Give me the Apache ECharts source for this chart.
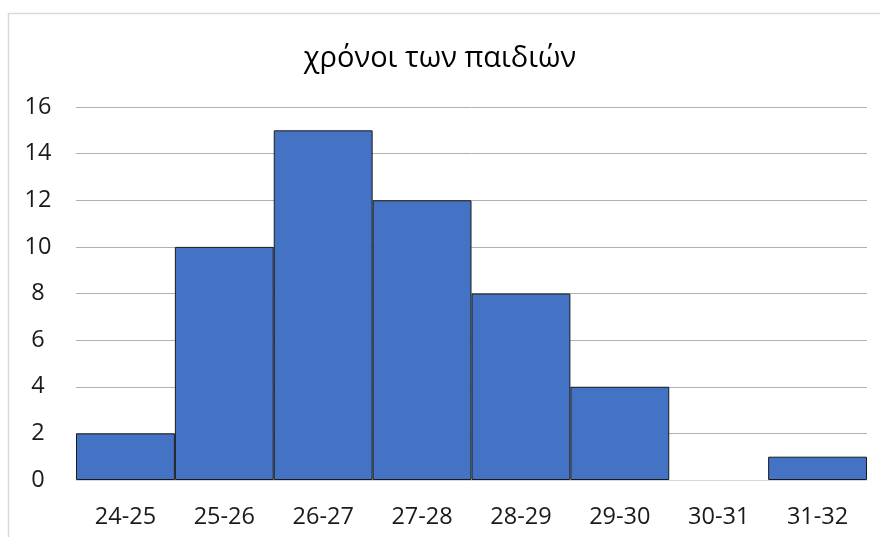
<!DOCTYPE html>
<html>
<head>
<meta charset="utf-8">
<script src="https://cdn.jsdelivr.net/npm/echarts@6/dist/echarts.min.js"></script>
<style>
html,body{margin:0;padding:0;background:#fff;}
#c{width:880px;height:537px;}
</style>
</head>
<body>
<div id="c"></div>
<script>
const title = "χρόνοι των παιδιών";
const categories = ["24-25","25-26","26-27","27-28","28-29","29-30","30-31","31-32"];
const counts = [2, 10, 15, 12, 8, 4, 0, 1];
const yTicks = {min: 0, max: 16, interval: 2};

const chart = echarts.init(document.getElementById('c'), null, {renderer: 'canvas'});
const font = "'Open Sans', 'Noto Sans', sans-serif";
chart.setOption({
  animation: false,
  backgroundColor: '#fff',
  graphic: [{
    type: 'rect',
    shape: {x: 8.5, y: 13.5, width: 880, height: 540},
    style: {fill: 'none', stroke: '#d9d9d9', lineWidth: 1.5},
    silent: true,
    z: -1
  }],
  title: {
    text: title,
    left: 'center',
    top: 39,
    textStyle: {fontFamily: font, fontSize: 29, fontWeight: 'normal', color: '#000'}
  },
  grid: {left: 76, right: 13, top: 107, bottom: 57, containLabel: false},
  xAxis: {
    type: 'category',
    data: categories,
    axisLine: {show: true, lineStyle: {color: '#d9d9d9', width: 1}},
    axisTick: {show: false},
    axisLabel: {fontFamily: font, fontSize: 23.5, color: '#1a1a1a', margin: 25}
  },
  yAxis: {
    type: 'value',
    min: yTicks.min, max: yTicks.max, interval: yTicks.interval,
    axisLine: {show: false},
    axisTick: {show: false},
    splitLine: {lineStyle: {color: '#b0b0b0', width: 1}},
    axisLabel: {fontFamily: font, fontSize: 23.5, color: '#1a1a1a', margin: 38, align: 'center'}
  },
  series: [{
    type: 'bar',
    data: counts.map(v => v === 0 ? {value: v, itemStyle: {borderWidth: 0}} : v),
    barCategoryGap: '0%',
    itemStyle: {color: '#4472C4', borderColor: '#1a1a1a', borderWidth: 1}
  }]
});
</script>
</body>
</html>
